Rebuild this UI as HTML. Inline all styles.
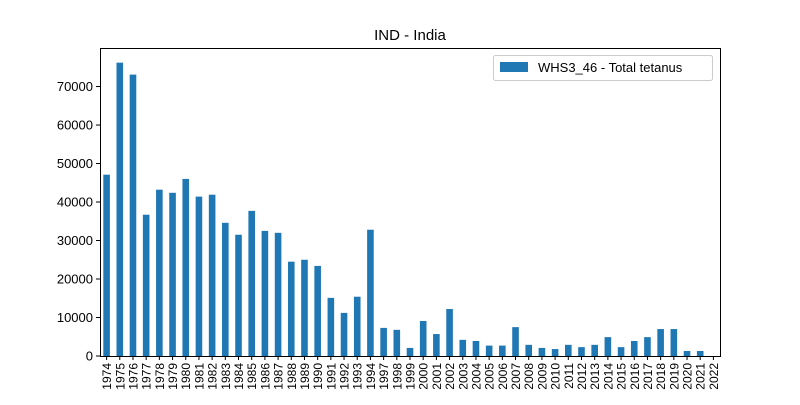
<!DOCTYPE html>
<html><head><meta charset="utf-8"><style>body{margin:0;background:#fff}svg{font-family:"Liberation Sans","DejaVu Sans",sans-serif}</style></head>
<body>
<svg id="chart" width="800" height="400" xmlns="http://www.w3.org/2000/svg">
<text x="410" y="40" font-size="15" text-anchor="middle">IND - India</text>
<g id="bars"></g>
<g id="xticks"></g>
<g id="yticks"></g>
<rect x="100.5" y="48.5" width="620" height="308" fill="none" stroke="#000" stroke-width="1"/>
<g>
<rect x="493.5" y="55.5" width="219" height="25" rx="2" fill="#fff" stroke="#ccc"/>
<rect x="500" y="62" width="28" height="10" fill="#1f77b4"/>
<text x="538" y="72" font-size="13">WHS3_46 - Total tetanus</text>
</g>
</svg>
<script>
const categories=["1974","1975","1976","1977","1978","1979","1980","1981","1982","1983","1984","1985","1986","1987","1988","1989","1990","1991","1992","1993","1994","1997","1998","1999","2000","2001","2002","2003","2004","2005","2006","2007","2008","2009","2010","2011","2012","2013","2014","2015","2016","2017","2018","2019","2020","2021","2022"];
const values=[47100,76200,73100,36700,43200,42400,46000,41400,41900,34600,31500,37700,32500,32000,24500,25000,23400,15100,11200,15400,32800,7300,6800,2100,9100,5700,12200,4200,3900,2700,2700,7500,2900,2100,1800,2900,2300,2900,4900,2300,3900,4900,7000,7000,1300,1300,0];
const yTicks=[0,10000,20000,30000,40000,50000,60000,70000];
const NS="http://www.w3.org/2000/svg";
const L=100,R=720,T=48,B=356;
const yMax=Math.max(...values)*1.05;
const y=v=>B-(v/yMax)*(B-T);
const step=(R-L)/categories.length;
const x=i=>L+step*(i+0.5);
const bars=document.getElementById('bars'),xt=document.getElementById('xticks'),yt=document.getElementById('yticks');
function mk(t,a){const e=document.createElementNS(NS,t);for(const k in a)e.setAttribute(k,a[k]);return e;}
values.forEach((v,i)=>{
 const r=mk('rect',{x:x(i)-step*0.25,y:y(v),width:step*0.5,height:B-y(v),fill:'#1f77b4'});
 
 
 bars.appendChild(r);
 const tk=mk('line',{x1:x(i),x2:x(i),y1:B,y2:B+4,stroke:'#000'});
 xt.appendChild(tk);
 const t=mk('text',{x:0,y:0,'font-size':12,'text-anchor':'end',transform:`translate(${x(i)+4.5},${B+7}) rotate(-90)`});
 t.textContent=categories[i];
 
 
 xt.appendChild(t);
});
yTicks.forEach(v=>{
 yt.appendChild(mk('line',{x1:L-4,x2:L,y1:y(v),y2:y(v),stroke:'#000'}));
 const t=mk('text',{x:L-7,y:y(v)+4.5,'font-size':13,'text-anchor':'end'});
 t.textContent=v;
 
 
 yt.appendChild(t);
});
</script>
</body></html>
